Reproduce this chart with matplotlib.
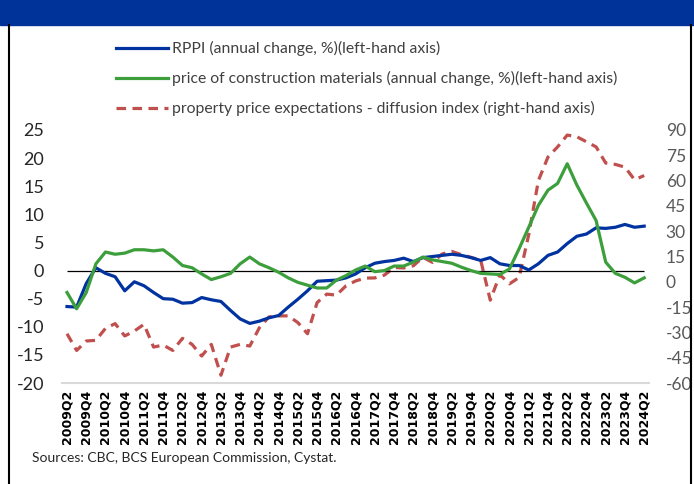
import matplotlib
matplotlib.use("Agg")
import matplotlib.pyplot as plt
from matplotlib.lines import Line2D
from matplotlib.patches import Rectangle

plt.rcParams['axes.unicode_minus'] = False

# quarterly labels 2009Q2 .. 2024Q2
quarters = [f"{y}Q{q}" for y in range(2009, 2025) for q in range(1, 5)]
quarters = quarters[quarters.index("2009Q2"):quarters.index("2024Q2") + 1]

rppi = [-6.4, -6.5, -2.3, 0.5, -0.5, -1.1, -3.6, -2.0, -2.7, -3.9,
        -5.0, -5.1, -5.8, -5.7, -4.8, -5.2, -5.5, -7.1, -8.6, -9.4,
        -9.0, -8.4, -8.0, -6.5, -5.1, -3.6, -1.9, -1.8, -1.7, -1.3,
        -0.6, 0.5, 1.3, 1.6, 1.8, 2.2, 1.6, 2.3, 2.5, 2.7,
        2.9, 2.7, 2.3, 1.8, 2.3, 1.2, 0.9, 0.9, 0.1, 1.2,
        2.7, 3.3, 4.8, 6.1, 6.5, 7.6, 7.5, 7.7, 8.2, 7.7, 7.9]

materials = [-3.9, -6.8, -3.9, 1.2, 3.3, 2.9, 3.1, 3.7, 3.7, 3.5,
             3.7, 2.4, 0.9, 0.5, -0.6, -1.6, -1.1, -0.5, 1.2, 2.4,
             1.2, 0.5, -0.3, -1.3, -2.1, -2.6, -3.1, -3.1, -1.7, -0.9,
             0.1, 0.8, -0.2, 0.0, 0.8, 0.8, 1.5, 2.4, 1.9, 1.6,
             1.3, 0.6, 0.0, -0.5, -0.6, -0.7, 0.3, 3.9, 7.7, 11.6,
             14.3, 15.5, 19.0, 15.2, 12.0, 8.9, 1.5, -0.5, -1.2, -2.2, -1.3]

expectations = [-30.8, -40.7, -35.1, -34.7, -27.6, -24.8, -32.1, -29.2, -25.2, -38.7,
                -37.5, -40.7, -33.5, -37.1, -44.0, -37.1, -55.4, -38.7, -37.1, -38.1,
                -27.2, -20.8, -20.2, -20.2, -24.2, -30.8, -12.3, -7.3, -7.9, -2.4,
                0.5, 2.2, 2.3, 4.0, 8.5, 8.2, 9.5, 14.5, 11.5, 16.5,
                18.0, 16.1, 14.5, 12.9, -10.9, 4.2, -1.2, 2.6, 28.0, 60.0,
                74.0, 80.0, 87.0, 86.0, 83.0, 80.0, 70.4, 69.6, 68.0, 60.5, 63.0]

labels = ["RPPI (annual change, %)(left-hand axis)",
          "price of construction materials (annual change, %)(left-hand axis)",
          "property price expectations - diffusion index (right-hand axis)"]

BLUE = "#0033a0"
GREEN = "#3c9f3c"
RED = "#c0504d"
FONT = "Lato"

fig = plt.figure(figsize=(6.94, 4.84), dpi=100)
W, H = 694, 484
ax = fig.add_axes([62.2 / W, 1 - 383 / H, (649 - 62.2) / W, (383 - 130) / H])
ax2 = ax.twinx()

x = list(range(len(quarters)))
l1, = ax.plot(x, rppi, color=BLUE, lw=2.3, zorder=3)
l2, = ax.plot(x, materials, color=GREEN, lw=2.3, zorder=3)
l3, = ax2.plot(x, expectations, color=RED, lw=2.3, dashes=(3, 2))
ax.hlines(0, 0, len(x) - 1, color="black", lw=0.9, zorder=2)

ax.set_xlim(-0.5, len(x) - 0.5)
ax.set_ylim(-20, 25)
ax.set_yticks(range(-20, 26, 5))
ax2.set_ylim(-60, 90)
ax2.set_yticks(range(-60, 91, 15))

ax.set_xticks(x[::2])
ax.set_xticklabels(quarters[::2], rotation=90, fontsize=9, fontweight="bold",
                   family="DejaVu Sans", va="top")

for a in (ax, ax2):
    for s in a.spines.values():
        s.set_visible(False)
ax.spines["bottom"].set_visible(True)
ax.spines["bottom"].set_color("#d9d9d9")
ax.spines["bottom"].set_linewidth(1.5)

ax.tick_params(axis="x", length=0, pad=5)
ax.tick_params(axis="y", length=0, pad=13, labelsize=13, labelcolor="#262626")
ax2.tick_params(axis="y", length=0, pad=12, labelsize=12.5, labelcolor="#595959")
for t in ax.get_yticklabels() + ax2.get_yticklabels():
    t.set_family(FONT)

ax.set_zorder(ax2.get_zorder() + 1)
ax.patch.set_visible(False)

fig.legend([l1, l2, l3], labels, loc="upper left", bbox_to_anchor=(102 / W, 1 - 27 / H),
           frameon=False, handlelength=3.3, handletextpad=0.25, labelspacing=0.95,
           prop={"family": FONT, "size": 11.3}, labelcolor="#404040")

fig.text(32 / W, 1 - 458 / H, "Sources: CBC, BCS European Commission, Cystat.",
         family=FONT, fontsize=10, color="#262626", va="center")

# header band and frame
fig.add_artist(Rectangle((0, 1 - 25 / H), 1, 25 / H, transform=fig.transFigure,
                         color="#003399", zorder=0))
fig.add_artist(Line2D([9 / W, 9 / W], [0, 1 - 25 / H], transform=fig.transFigure,
                      color="black", lw=1.5))
fig.add_artist(Line2D([691 / W, 691 / W], [0, 1 - 25 / H], transform=fig.transFigure,
                      color="black", lw=1.5))

fig.savefig("out.png", dpi=100)
